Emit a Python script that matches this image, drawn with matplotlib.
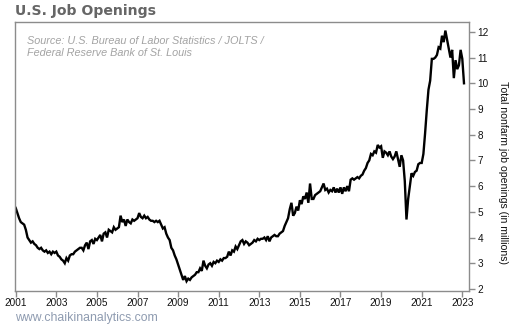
import numpy as np
import matplotlib
matplotlib.use("Agg")
import matplotlib.pyplot as plt

# Monthly job openings (millions), Dec 2000 - Feb 2023
start_year, start_month = 2000, 12
v2000 = [5.27]
v2001 = [5.15, 4.95, 4.75, 4.6, 4.55, 4.5, 4.3, 4.0, 3.9, 3.8, 3.85, 3.75]
v2002 = [3.7, 3.6, 3.55, 3.6, 3.5, 3.45, 3.5, 3.4, 3.45, 3.35, 3.45, 3.4]
v2003 = [3.45, 3.3, 3.25, 3.15, 3.1, 3.0, 3.2, 3.1, 3.3, 3.35, 3.35, 3.45]
v2004 = [3.5, 3.55, 3.6, 3.6, 3.5, 3.7, 3.8, 3.55, 3.85, 3.9, 3.75, 3.95]
v2005 = [3.9, 4.0, 4.1, 3.85, 4.15, 4.2, 4.0, 4.3, 4.25, 4.2, 4.4, 4.3]
v2006 = [4.35, 4.4, 4.85, 4.6, 4.7, 4.45, 4.7, 4.6, 4.55, 4.7, 4.65, 4.7]
v2007 = [4.75, 4.95, 4.8, 4.75, 4.85, 4.75, 4.8, 4.7, 4.65, 4.65, 4.6, 4.65]
v2008 = [4.6, 4.65, 4.5, 4.35, 4.4, 4.15, 4.0, 3.9, 3.6, 3.5, 3.3, 3.15]
v2009 = [2.95, 2.75, 2.55, 2.35, 2.5, 2.3, 2.4, 2.35, 2.45, 2.5, 2.55, 2.65]
v2010 = [2.65, 2.8, 2.7, 3.1, 2.9, 2.8, 2.95, 3.0, 2.9, 3.05, 3.0, 3.1]
v2011 = [3.05, 3.15, 3.1, 3.2, 3.2, 3.25, 3.45, 3.3, 3.5, 3.45, 3.65, 3.55]
v2012 = [3.7, 3.85, 3.9, 3.75, 3.85, 3.8, 3.7, 3.75, 3.8, 3.9, 3.85, 3.95]
v2013 = [3.9, 3.95, 3.95, 4.0, 3.9, 4.05, 3.85, 4.0, 4.05, 4.1, 4.05, 4.05]
v2014 = [4.15, 4.2, 4.25, 4.45, 4.6, 4.75, 5.1, 5.35, 4.85, 4.95, 5.2, 5.05]
v2015 = [5.45, 5.3, 5.6, 5.5, 5.75, 5.35, 6.1, 5.5, 5.5, 5.65, 5.7, 5.75]
v2016 = [5.8, 5.95, 6.1, 5.85, 5.9, 5.75, 5.85, 5.8, 5.95, 5.75, 5.9, 5.75]
v2017 = [5.95, 5.7, 5.95, 5.8, 6.0, 5.8, 6.25, 6.3, 6.25, 6.3, 6.35, 6.3]
v2018 = [6.4, 6.45, 6.6, 6.7, 6.9, 7.0, 7.25, 7.2, 7.35, 7.3, 7.6, 7.5]
v2019 = [7.55, 7.1, 7.35, 7.3, 7.2, 7.35, 7.15, 7.05, 7.15, 7.35, 7.05, 6.75]
v2020 = [7.2, 7.0, 6.2, 4.7, 5.5, 6.0, 6.5, 6.4, 6.55, 6.6, 6.85, 6.9]
v2021 = [6.9, 7.25, 8.05, 8.95, 9.75, 10.1, 10.95, 10.95, 11.0, 11.1, 11.4, 11.35]
v2022 = [11.85, 11.6, 12.05, 11.7, 11.35, 11.0, 11.3, 10.2, 10.9, 10.55, 10.7, 11.3]
v2023 = [10.95, 10.0]

values = (v2000 + v2001 + v2002 + v2003 + v2004 + v2005 + v2006 + v2007 + v2008
          + v2009 + v2010 + v2011 + v2012 + v2013 + v2014 + v2015 + v2016 + v2017
          + v2018 + v2019 + v2020 + v2021 + v2022 + v2023)
n = len(values)
months_idx = np.arange(n) + (start_month - 1)
x = start_year + months_idx / 12.0

xticks = [2001, 2003, 2005, 2007, 2009, 2011, 2013, 2015, 2017, 2019, 2021, 2023]
yticks = [2, 3, 4, 5, 6, 7, 8, 9, 10, 11, 12]

title = "U.S. Job Openings"
source = "Source: U.S. Bureau of Labor Statistics / JOLTS /\nFederal Reserve Bank of St. Louis"
ylabel = "Total nonfarm job openings (in millions)"
watermark = "www.chaikinanalytics.com"

fig = plt.figure(figsize=(5.1, 3.25), dpi=100)
ax = fig.add_axes([0.0288, 0.1055, 0.8908, 0.8265])

ax.plot(x, values, color="black", lw=1.7, solid_joinstyle="miter")

ax.set_xlim(2000.95, 2023.33)
ax.set_ylim(1.93, 12.38)
ax.set_xticks(xticks)
ax.set_xticklabels([str(t) for t in xticks])
ax.set_yticks(yticks)
ax.yaxis.tick_right()
ax.yaxis.set_label_position("right")

spine_c = "#8c8c8c"
for s in ax.spines.values():
    s.set_color(spine_c)
    s.set_linewidth(1.0)
ax.tick_params(axis="both", colors=spine_c, labelcolor="#111111",
               length=4, width=1.0, labelsize=7.2, pad=1.5)
ax.tick_params(axis="y", right=True, left=False, length=4, pad=2)
for lbl in ax.get_xticklabels() + ax.get_yticklabels():
    lbl.set_family(["Liberation Sans", "DejaVu Sans"])

ax.set_ylabel(ylabel, rotation=270, labelpad=10, fontsize=7.6,
              family=["Liberation Sans", "DejaVu Sans"], color="#111111")
ax.yaxis.set_label_coords(1.085, 0.44)

fig.text(15 / 510, 1 - 11 / 325, title, fontsize=10.1, fontweight="bold",
         color="#666666", family=["DejaVu Sans"], va="center", ha="left")
ax.text(0.027, 0.95, source, transform=ax.transAxes, fontsize=7.8,
        style="italic", color="#a3a3a3", va="top", ha="left",
        family=["Liberation Sans", "DejaVu Sans"], linespacing=1.25)
fig.text(15 / 510, 1 - 317.5 / 325, watermark, fontsize=8.8, color="#8e9bb0",
         family=["Liberation Sans", "DejaVu Sans"], va="center", ha="left")

fig.savefig("out.png", dpi=100, facecolor="white")
